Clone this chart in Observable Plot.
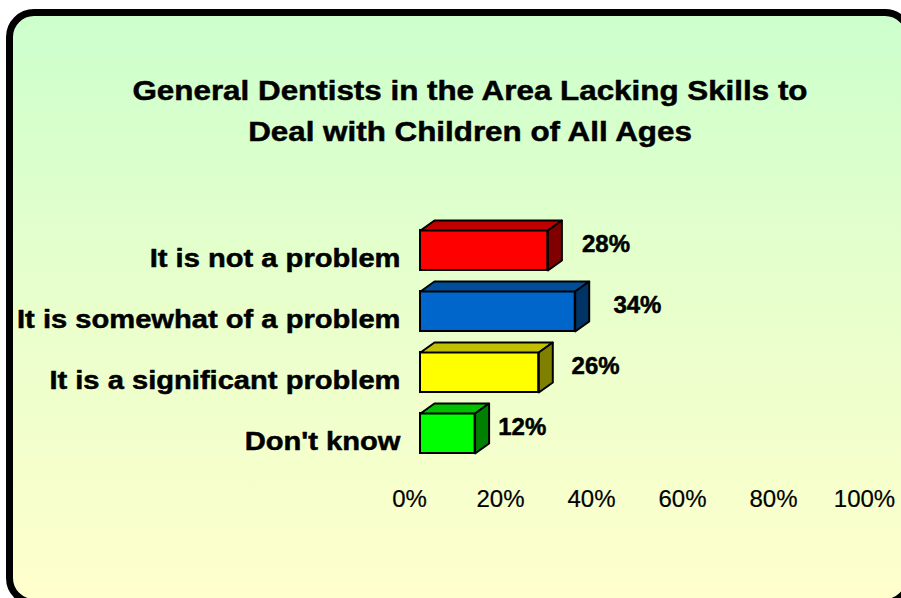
<!DOCTYPE html>
<html>
<head>
<meta charset="utf-8">
<script src="https://cdn.jsdelivr.net/npm/d3@7"></script>
<script src="https://cdn.jsdelivr.net/npm/@observablehq/plot@0.6"></script>
<style>
  html, body { margin: 0; padding: 0; background: #ffffff; }
  #page { position: relative; width: 901px; height: 598px; overflow: hidden; background: #ffffff;
          font-family: "Liberation Sans", Arial, Helvetica, sans-serif; }
  #frame { position: absolute; left: 6px; top: 9px; width: 893px; height: 583px;
           border: 7px solid #000; border-radius: 28px;
           background: linear-gradient(to bottom, #CCFFCC 0%, #E6FFCC 45%, #FFFFCC 100%); }
  #title { position: absolute; left: 0; top: 70px; width: 940px; text-align: center;
           font-size: 28px; font-weight: bold; line-height: 41px; color: #000;
           -webkit-text-stroke: 0.5px #000;
           transform: scaleX(1.12); transform-origin: 470px 0; white-space: nowrap; }
  #chart { position: absolute; left: 0; top: 0; }
</style>
</head>
<body>
<div id="page">
  <div id="frame"></div>
  <div id="title">General Dentists in the Area Lacking Skills to<br>Deal with Children of All Ages</div>
  <div id="chart"></div>
</div>
<script>
// ---- data ----
const categories = ["It is not a problem", "It is somewhat of a problem", "It is a significant problem", "Don't know"];
const values = [28, 34, 26, 12];
const xTicks = [0, 20, 40, 60, 80, 100];

// ---- styles ----
const frontColors = ["#FF0000", "#0066CC", "#FFFF00", "#00FF00"];
const topColors   = ["#C00000", "#004D99", "#C0C000", "#00C000"];
const sideColors  = ["#800000", "#003366", "#808000", "#008000"];

// ---- geometry (layout constants) ----
const W = 901, H = 598;
const mLeft = 420, mRight = 26;
const pxPerPct = (W - mLeft - mRight) / 100;
const bandPx = 61;                 // distance between bar centres
const half = 20 / bandPx;          // half bar thickness in band units
const depthX = 14 / pxPerPct;      // 3-D depth, horizontal (in % units)
const depthY = 10 / bandPx;        // 3-D depth, vertical (in band units)
const labelFactor = 1.15;          // Excel-like perspective for value labels

const rows = categories.map((c, i) => ({category: c, value: values[i], index: i}));

const topFaces = [], sideFaces = [];
rows.forEach((r, i) => {
  const y0 = r.index - half, y1 = r.index + half;
  [[0, y0], [r.value, y0], [r.value + depthX, y0 - depthY], [depthX, y0 - depthY]]
    .forEach(([x, y]) => topFaces.push({id: i, x, y, fill: topColors[i]}));
  [[r.value, y0], [r.value + depthX, y0 - depthY], [r.value + depthX, y1 - depthY], [r.value, y1]]
    .forEach(([x, y]) => sideFaces.push({id: i, x, y, fill: sideColors[i]}));
});

const chart = Plot.plot({
  width: W, height: H,
  marginLeft: mLeft, marginRight: mRight, marginTop: 200, marginBottom: 118,
  x: {domain: [0, 100], axis: null},
  y: {domain: [0, 3], range: [250, 250 + 3 * bandPx], axis: null},
  color: {type: "identity"},
  style: {background: "transparent", overflow: "visible",
          fontFamily: "'Liberation Sans', Arial, Helvetica, sans-serif", color: "#000"},
  marks: [
    Plot.rect(rows, {x1: 0, x2: "value", y1: d => d.index - half, y2: d => d.index + half,
      fill: (d, i) => frontColors[i], stroke: "#000", strokeWidth: 2}),
    Plot.line(topFaces, {x: "x", y: "y", z: "id", fill: "fill", stroke: "#000",
      strokeWidth: 2, strokeLinejoin: "round", curve: "linear-closed"}),
    Plot.line(sideFaces, {x: "x", y: "y", z: "id", fill: "fill", stroke: "#000",
      strokeWidth: 2, strokeLinejoin: "round", curve: "linear-closed"}),
    Plot.text(rows, {x: 0, y: "index", text: "category", textAnchor: "end", dx: -20, dy: 8,
      fontSize: 26, fontWeight: "bold", fill: "#000", stroke: "#000", strokeWidth: 0.5}),
    Plot.text(rows, {x: d => d.value * labelFactor, y: "index", text: d => `${d.value}%`,
      dx: 39, dy: -6.5, fontSize: 24, fontWeight: "bold", fill: "#000", stroke: "#000", strokeWidth: 0.5}),
    Plot.text(xTicks, {x: d => d, frameAnchor: "bottom", lineAnchor: "top", text: d => `${d}%`,
      dx: -11, dy: 9, fontSize: 24, fill: "#000", stroke: "#000", strokeWidth: 0.2})
  ]
});
document.getElementById("chart").appendChild(chart);

// stretch category labels horizontally like the original rendering
const catSet = new Set(categories);
chart.querySelectorAll("text").forEach(t => {
  if (catSet.has(t.textContent)) {
    const len = t.getComputedTextLength();
    t.setAttribute("textLength", (len * 1.12).toFixed(1));
    t.setAttribute("lengthAdjust", "spacingAndGlyphs");
  }
});
</script>
</body>
</html>
